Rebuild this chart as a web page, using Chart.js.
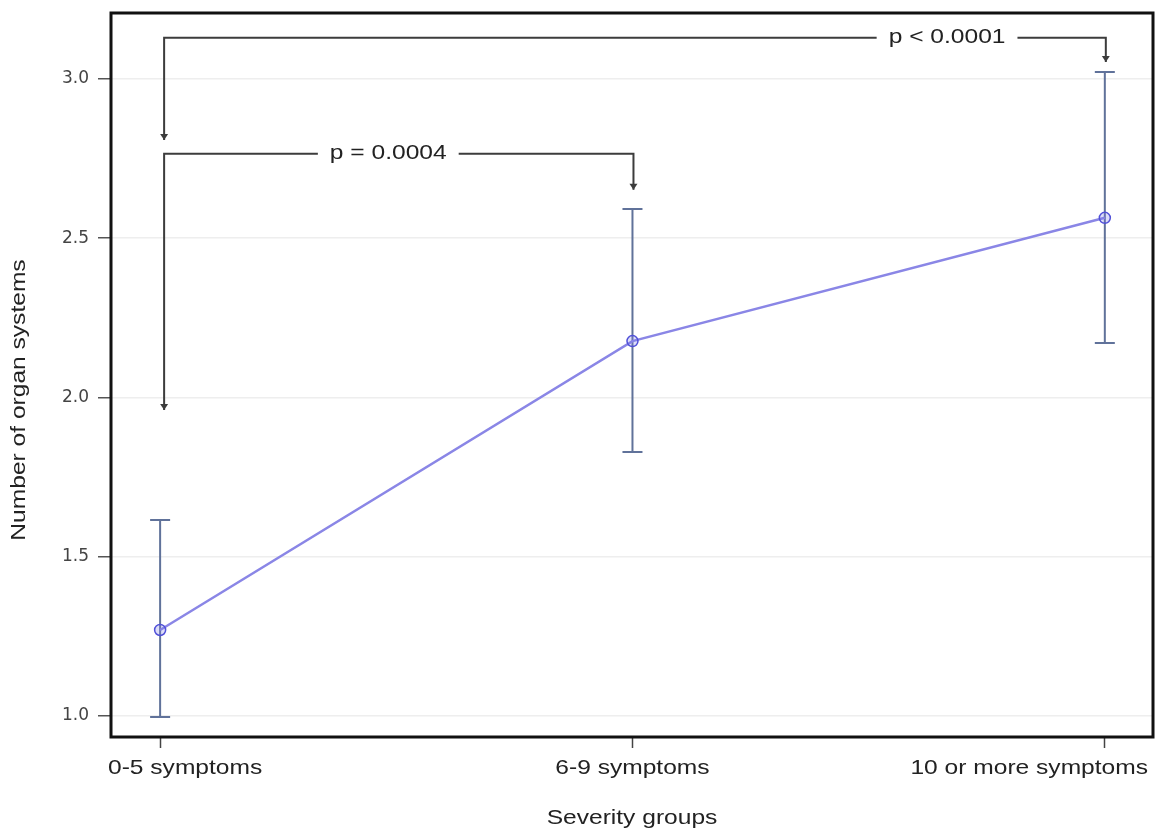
<!DOCTYPE html>
<html>
<head>
<meta charset="utf-8">
<script src="https://cdn.jsdelivr.net/npm/chart.js@4/dist/chart.umd.min.js"></script>
<style>
  html, body { margin: 0; padding: 0; background: #fff; }
  #wrap { width: 1156px; height: 832px; }
</style>
</head>
<body>
<div id="wrap"><canvas id="chart" width="1156" height="832"></canvas></div>
<script>
// data
const groups = ['0-5 symptoms', '6-9 symptoms', '10 or more symptoms'];
const means = [1.27, 2.177, 2.564];
const lower = [0.997, 1.829, 2.171];
const upper = [1.615, 2.592, 3.022];
const yTicks = [1.0, 1.5, 2.0, 2.5, 3.0];

// significance brackets: from group, to group, bracket level, arrow tips, label and label centre
const brackets = [
    { from: 0, to: 2, level: 3.129, tipFrom: 2.808, tipTo: 3.053, label: 'p < 0.0001', at: 1.666 },
    { from: 0, to: 1, level: 2.765, tipFrom: 1.961, tipTo: 2.652, label: 'p = 0.0004', at: 0.483 }
];

const FONT = "'Liberation Sans', Arial, sans-serif";
const STRETCH = 1.17;

// text is a bit wide in the original, so stretch it horizontally
function wideText(ctx, text, x, y, align) {
    ctx.save();
    ctx.textAlign = align || 'center';
    ctx.textBaseline = 'middle';
    ctx.translate(x, y);
    ctx.scale(STRETCH, 1);
    ctx.fillText(text, 0, 0);
    ctx.restore();
}

const extras = {
    id: 'extras',
    beforeDatasetsDraw(chart) {
        const ctx = chart.ctx;
        const xs = chart.scales.x, ys = chart.scales.y;
        // error bars
        ctx.save();
        ctx.strokeStyle = '#60729a';
        ctx.lineWidth = 2;
        groups.forEach((g, i) => {
            const x = xs.getPixelForValue(i);
            const yl = ys.getPixelForValue(lower[i]);
            const yu = ys.getPixelForValue(upper[i]);
            ctx.beginPath();
            ctx.moveTo(x, yl); ctx.lineTo(x, yu);
            ctx.moveTo(x - 10, yl); ctx.lineTo(x + 10, yl);
            ctx.moveTo(x - 10, yu); ctx.lineTo(x + 10, yu);
            ctx.stroke();
        });
        ctx.restore();
    },
    afterDraw(chart) {
        const ctx = chart.ctx;
        const a = chart.chartArea;
        const xs = chart.scales.x, ys = chart.scales.y;
        ctx.save();
        // frame
        ctx.strokeStyle = '#111';
        ctx.lineWidth = 3;
        ctx.strokeRect(a.left, a.top, a.right - a.left, a.bottom - a.top);

        // brackets
        ctx.strokeStyle = '#3c3c3c';
        ctx.lineWidth = 2;
        ctx.font = '21px ' + FONT;
        brackets.forEach(b => {
            const x1 = xs.getPixelForValue(b.from) + 4;
            const x2 = xs.getPixelForValue(b.to) + 1;
            const y = ys.getPixelForValue(b.level);
            const t1 = ys.getPixelForValue(b.tipFrom);
            const t2 = ys.getPixelForValue(b.tipTo);
            const tx = xs.getPixelForValue(b.at);
            const half = ctx.measureText(b.label).width * STRETCH / 2 + 12;
            ctx.beginPath();
            ctx.moveTo(x1, t1); ctx.lineTo(x1, y); ctx.lineTo(tx - half, y);
            ctx.moveTo(tx + half, y); ctx.lineTo(x2, y); ctx.lineTo(x2, t2);
            ctx.stroke();
            ctx.fillStyle = '#3c3c3c';
            [[x1, t1], [x2, t2]].forEach(([px, py]) => {
                ctx.beginPath();
                ctx.moveTo(px - 4, py - 6); ctx.lineTo(px + 4, py - 6); ctx.lineTo(px, py);
                ctx.closePath();
                ctx.fill();
            });
            ctx.fillStyle = '#222';
            wideText(ctx, b.label, tx, y - 1);
        });

        // category labels, kept inside the frame's span like the original
        ctx.fillStyle = '#222';
        ctx.font = '21px ' + FONT;
        groups.forEach((g, i) => {
            const x = xs.getPixelForValue(i);
            const w = ctx.measureText(g).width * STRETCH;
            let cx = x;
            if (cx - w / 2 < a.left - 3) cx = a.left - 3 + w / 2;
            if (cx + w / 2 > chart.width - 8) cx = chart.width - 8 - w / 2;
            wideText(ctx, g, cx, 768);
        });

        // axis titles
        wideText(ctx, 'Severity groups', (a.left + a.right) / 2, 818);
        ctx.translate(19, 400);
        ctx.rotate(-Math.PI / 2);
        wideText(ctx, 'Number of organ systems', 0, 0);
        ctx.restore();
    }
};

new Chart(document.getElementById('chart').getContext('2d'), {
    type: 'line',
    data: {
        datasets: [{
            data: means.map((m, i) => ({ x: i, y: m })),
            borderColor: '#8a86e6',
            borderWidth: 2.5,
            pointRadius: 5.5,
            pointBorderWidth: 1.5,
            pointBorderColor: '#5050d8',
            pointBackgroundColor: 'rgba(120,120,230,0.25)',
            tension: 0
        }]
    },
    options: {
        responsive: false,
        animation: false,
        layout: { autoPadding: false, padding: { top: 13, right: 3, left: 0, bottom: 0 } },
        plugins: { legend: { display: false }, tooltip: { enabled: false } },
        scales: {
            x: {
                type: 'linear',
                min: -0.104,
                max: 2.102,
                afterBuildTicks: s => { s.ticks = groups.map((g, i) => ({ value: i })); },
                afterFit: s => { s.height = 95; s.paddingLeft = 0; s.paddingRight = 0; },
                grid: { drawOnChartArea: false, drawTicks: true, tickLength: 11, tickColor: '#444', tickWidth: 1.5 },
                border: { display: false },
                ticks: { display: false }
            },
            y: {
                min: 0.934,
                max: 3.207,
                afterBuildTicks: s => { s.ticks = yTicks.map(v => ({ value: v })); },
                afterFit: s => { s.width = 111; s.paddingTop = 0; s.paddingBottom = 0; },
                grid: { color: '#eeeeee', lineWidth: 1.5, drawTicks: true, tickLength: 13, tickColor: '#555', tickWidth: 1.5 },
                border: { display: false },
                ticks: {
                    padding: 9,
                    color: '#444',
                    font: { family: "'DejaVu Sans', sans-serif", size: 17 },
                    callback: v => v.toFixed(1)
                }
            }
        }
    },
    plugins: [extras]
});
</script>
</body>
</html>
